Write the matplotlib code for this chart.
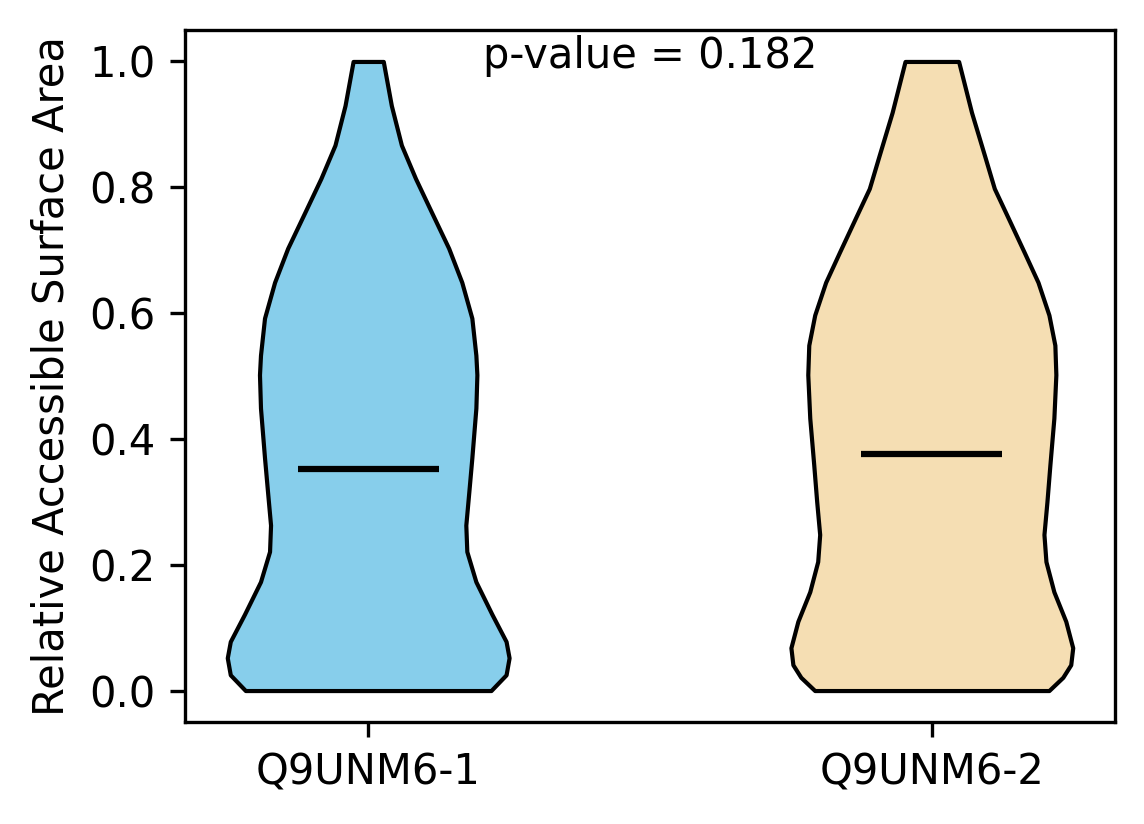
import numpy as np
import matplotlib
matplotlib.use("Agg")
import matplotlib.pyplot as plt

# labels and summary values
labels = ["Q9UNM6-1", "Q9UNM6-2"]
means = [0.352, 0.376]
colors = ["skyblue", "wheat"]
p_value = 0.182

# density outlines (y value, relative half width)
coords_1 = [0.0, 0.025, 0.052, 0.078, 0.121, 0.173, 0.221, 0.263, 0.316, 0.370,
            0.449, 0.502, 0.533, 0.592, 0.649, 0.703, 0.760, 0.814, 0.867, 0.930, 1.0]
dens_1 = [122, 137, 140, 137, 123, 107, 98, 97, 100, 103,
          107, 108, 107, 103, 93, 80, 63, 47, 33, 23, 15]
coords_2 = [0.0, 0.021, 0.041, 0.068, 0.110, 0.157, 0.205, 0.248, 0.300, 0.359,
            0.433, 0.502, 0.549, 0.597, 0.649, 0.697, 0.751, 0.798, 0.851, 0.919, 1.0]
dens_2 = [118, 132, 140, 142, 135, 123, 115, 113, 116, 119,
          123, 125, 124, 118, 107, 93, 77, 63, 53, 40, 27]

stats = []
for c, d, m in zip([coords_1, coords_2], [dens_1, dens_2], means):
    stats.append({"coords": np.array(c), "vals": np.array(d, dtype=float),
                  "mean": m, "median": m, "min": min(c), "max": max(c)})

fig = plt.figure(figsize=(1144 / 300, 824 / 300), dpi=300)
ax = fig.add_axes([185 / 1144, 1 - 722 / 824, 930 / 1144, 692 / 824])

parts = ax.violin(stats, positions=[1, 2], widths=0.5,
                  showmeans=True, showextrema=False, showmedians=False)
for body, col in zip(parts["bodies"], colors):
    body.set_facecolor(col)
    body.set_edgecolor("black")
    body.set_linewidth(1)
    body.set_alpha(1)
parts["cmeans"].set_color("black")
parts["cmeans"].set_linewidth(1.5)

ax.set_xticks([1, 2])
ax.set_xticklabels(labels)
ax.set_ylabel("Relative Accessible Surface Area")
ax.text(1.5, 1.008, "p-value = %.3f" % p_value, ha="center", va="center")

fig.savefig("out.png", dpi=300)
